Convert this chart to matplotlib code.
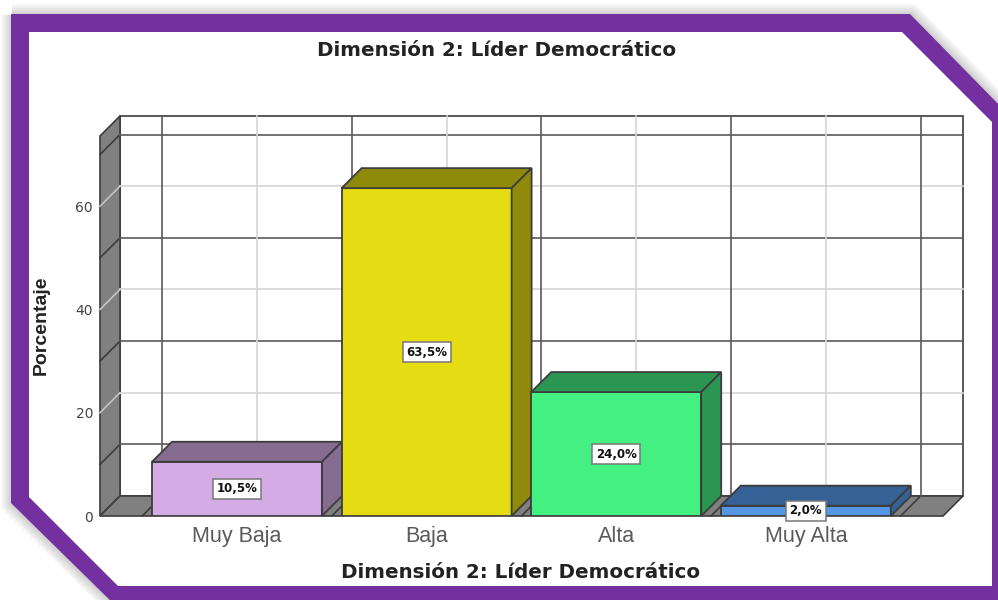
import matplotlib
matplotlib.use('Agg')
import matplotlib.pyplot as plt
from matplotlib.patches import Polygon

categories = ['Muy Baja', 'Baja', 'Alta', 'Muy Alta']
values = [10.5, 63.5, 24.0, 2.0]
value_labels = ['10,5%', '63,5%', '24,0%', '2,0%']
front_colors = ['#d3ace6', '#e5dc13', '#45f082', '#5596e6']
dark_colors = ['#866c90', '#8f8a0c', '#2b9651', '#366196']
y_ticks = [0, 20, 40, 60]
dark_levels = [10, 30, 50, 70]
light_levels = [20, 40, 60]
title = 'Dimensión 2: Líder Democrático'

W, H = 998, 600
plt.rcParams['font.family'] = ['Liberation Sans', 'DejaVu Sans']

fig = plt.figure(figsize=(W / 100, H / 100), dpi=100)
fig.patch.set_facecolor('white')

# purple frame, in pixels
bg = fig.add_axes([0, 0, 1, 1], zorder=0)
bg.set_xlim(0, W)
bg.set_ylim(H, 0)
bg.axis('off')
outer = [(11, 14), (910, 14), (1010, 116), (1010, 612), (122, 612), (11, 503)]
inner = [(29, 32), (902, 32), (992, 122), (992, 586), (118, 586), (29, 497)]
for i in range(8):
    bg.add_patch(Polygon([(x + 1, y + 1) for x, y in outer], closed=True, fill=False,
                         edgecolor='#000000', lw=2 + i * 2, alpha=0.022, joinstyle='round'))
bg.add_patch(Polygon(outer, closed=True, fc='#7530a0', ec='none'))
bg.add_patch(Polygon(inner, closed=True, fc='white', ec='none'))

# chart axes: front plane of the 3d box
left, right, top, bottom = 100, 943, 136, 516
ax = fig.add_axes([left / W, 1 - bottom / H, (right - left) / W, (bottom - top) / H], zorder=1)
ax.patch.set_alpha(0)
ax.set_xlim(-0.7225, 3.7235)
ax.set_ylim(0, 73.6)
for s in ax.spines.values():
    s.set_visible(False)

dx = 20 / 189.6
dy = 20 / 5.16
x0, x1 = ax.get_xlim()
y1 = ax.get_ylim()[1]
edge = '#3c3c3c'
dark = '#5a5a5a'
light = '#d6d6d6'

# back wall
ax.add_patch(Polygon([(x0 + dx, dy), (x1 + dx, dy), (x1 + dx, y1 + dy), (x0 + dx, y1 + dy)],
                     closed=True, fc='white', ec=edge, lw=1.2, clip_on=False, zorder=1))
# left wall and floor
ax.add_patch(Polygon([(x0, 0), (x0 + dx, dy), (x0 + dx, y1 + dy), (x0, y1)],
                     closed=True, fc='#808080', ec=edge, lw=1.2, clip_on=False, zorder=2))
ax.add_patch(Polygon([(x0, 0), (x1, 0), (x1 + dx, dy), (x0 + dx, dy)],
                     closed=True, fc='#808080', ec=edge, lw=1.2, clip_on=False, zorder=2))

for lev in dark_levels + light_levels:
    c = '#3c3c3c' if lev in dark_levels else '#c4c4c4'
    ax.plot([x0, x0 + dx], [lev, lev + dy], color=c, lw=1.2, clip_on=False, zorder=3)
    ax.plot([x0 + dx, x1 + dx], [lev + dy, lev + dy], color=dark if lev in dark_levels else light,
            lw=1.2, clip_on=False, zorder=3)
for i in range(len(categories) + 1):
    p = i - 0.5
    ax.plot([p, p + dx], [0, dy], color='#3c3c3c', lw=1.2, clip_on=False, zorder=3)
    ax.plot([p + dx, p + dx], [dy, y1 + dy], color=dark, lw=1.2, clip_on=False, zorder=3)
for i in range(len(categories)):
    ax.plot([i + dx, i + dx], [dy, y1 + dy], color=light, lw=1.2, clip_on=False, zorder=3)

# bars
bw = 170 / 189.6
for i, v in enumerate(values):
    a, b = i - bw / 2, i + bw / 2
    ax.bar(i, v, width=bw, color=front_colors[i], edgecolor=edge, linewidth=1.3, zorder=5)
    ax.add_patch(Polygon([(a, v), (b, v), (b + dx, v + dy), (a + dx, v + dy)], closed=True,
                         fc=dark_colors[i], ec=edge, lw=1.3, zorder=5, clip_on=False))
    ax.add_patch(Polygon([(b, 0), (b + dx, dy), (b + dx, v + dy), (b, v)], closed=True,
                         fc=dark_colors[i], ec=edge, lw=1.3, zorder=5, clip_on=False))
    ax.text(i, v / 2, value_labels[i], ha='center', va='center', fontsize=8.5,
            fontweight='bold', family=['DejaVu Sans'], color='#111111', zorder=6,
            bbox=dict(boxstyle='square,pad=0.3', fc='white', ec='#777777', lw=1.1))

ax.set_xticks(range(len(categories)), categories, fontsize=15.5, color='#5a5a5a')
ax.set_yticks(y_ticks, [str(t) for t in y_ticks], fontsize=10, color='#444444',
              family=['DejaVu Sans'])
ax.tick_params(axis='x', length=0, pad=7)
ax.tick_params(axis='y', length=0, pad=5)

ax.set_xlabel(title, fontsize=14.3, fontweight='bold', color='#222222',
              family=['DejaVu Sans'])
ax.xaxis.set_label_coords((521 - left) / (right - left), -(563 - bottom) / (bottom - top))
ax.set_ylabel('Porcentaje', fontsize=14, fontweight='bold', color='#222222')
ax.yaxis.set_label_coords((50 - left) / (right - left), (bottom - 325) / (bottom - top))

fig.text(497 / W, 1 - 50 / H, title, ha='center', va='center', fontsize=14.3,
         fontweight='bold', color='#222222', family=['DejaVu Sans'])

fig.savefig('out.png', dpi=100)
